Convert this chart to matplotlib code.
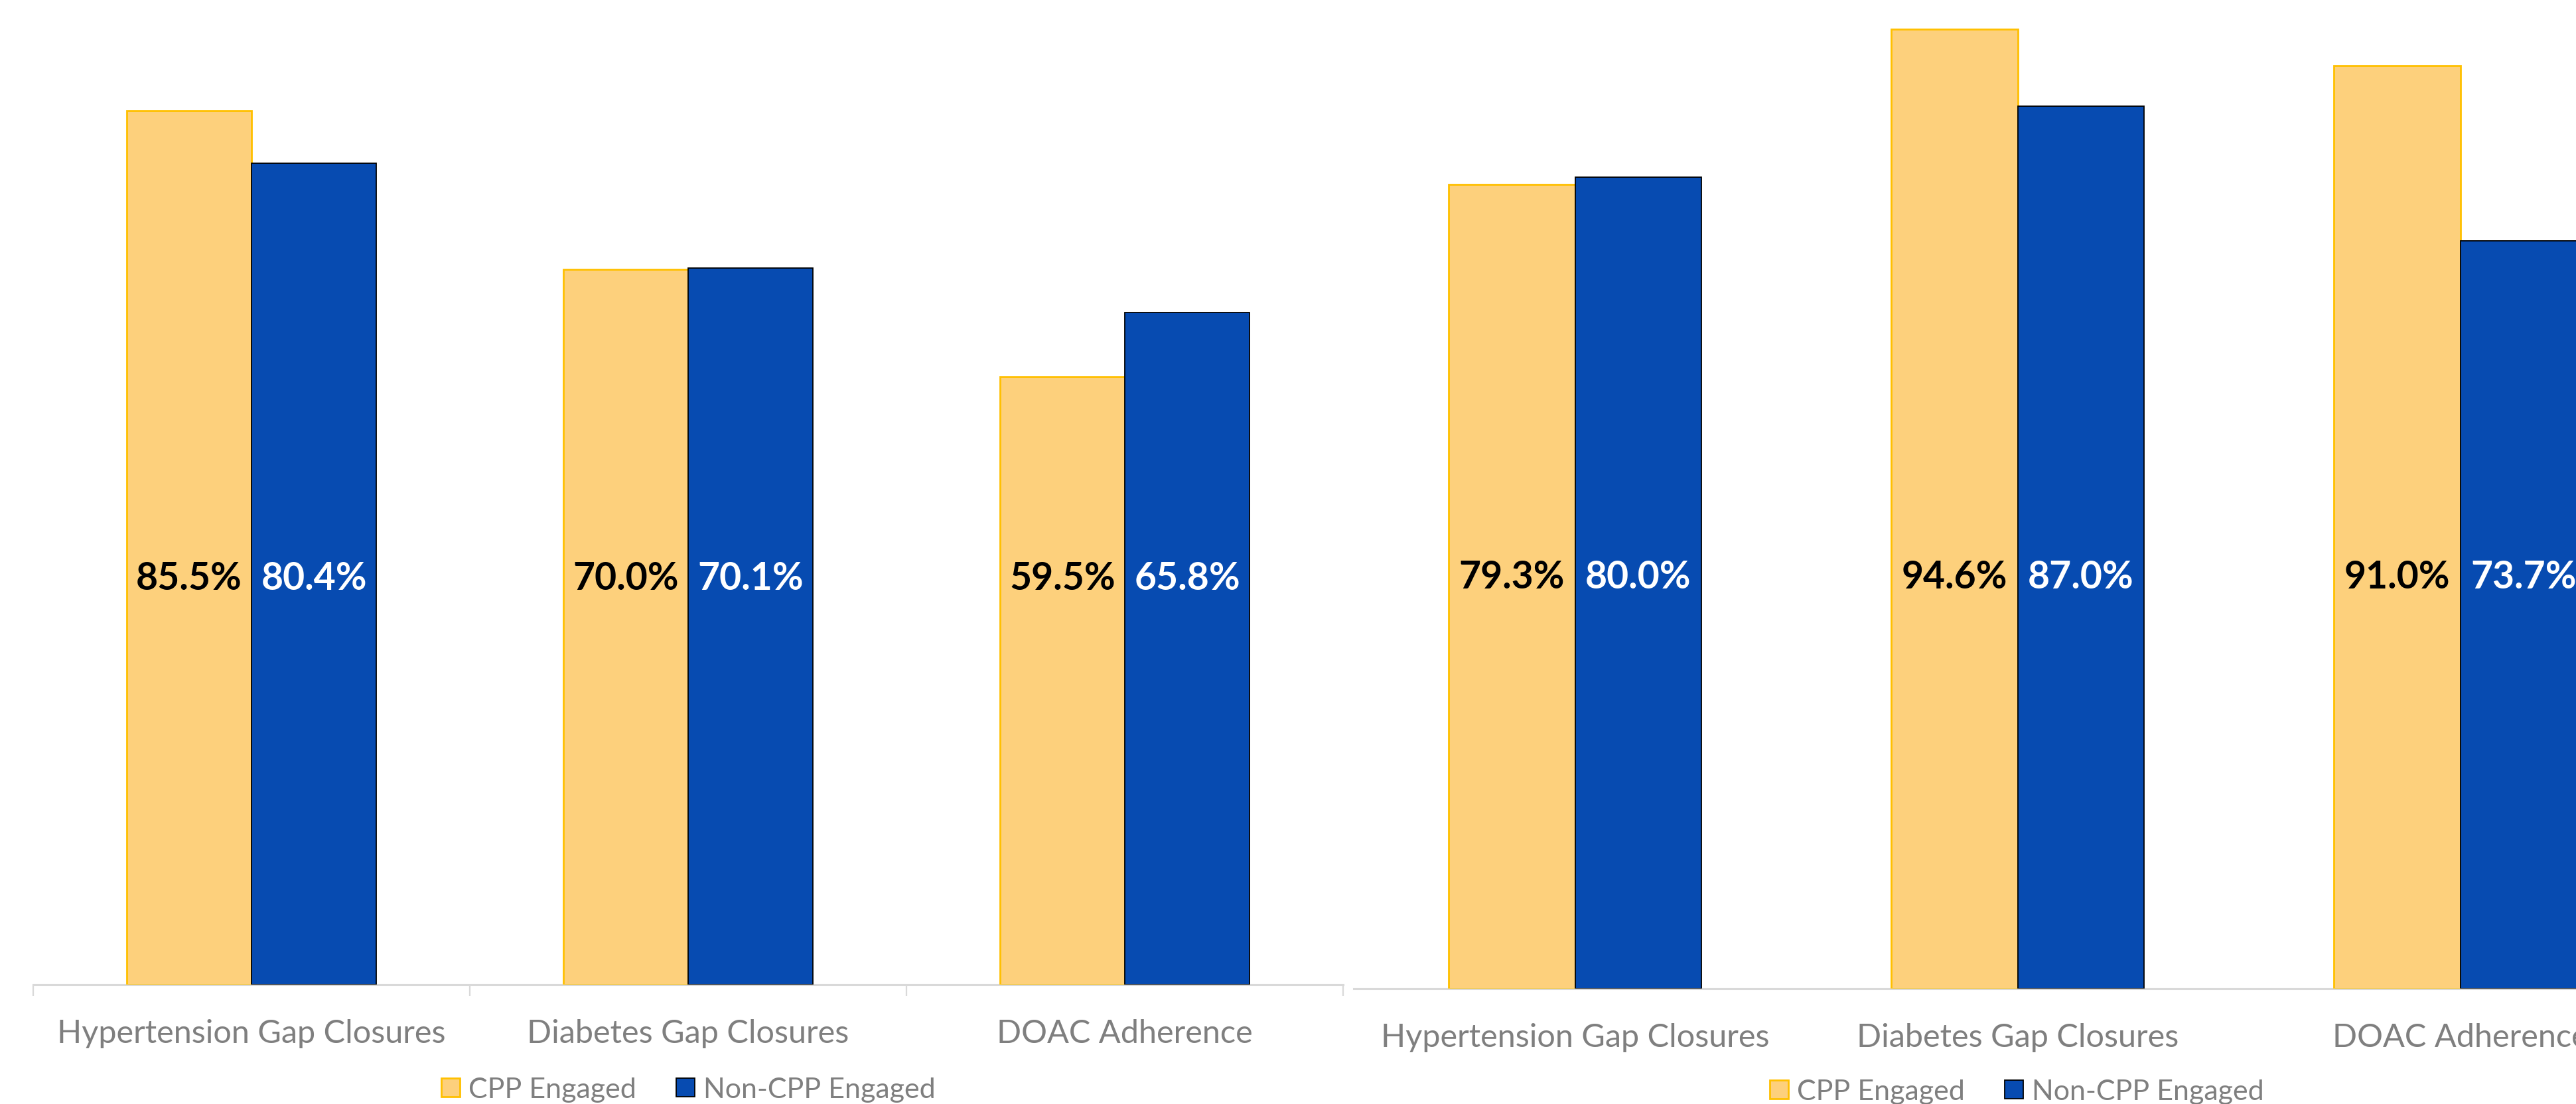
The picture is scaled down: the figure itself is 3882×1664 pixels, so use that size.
import matplotlib
matplotlib.use("Agg")
import matplotlib.pyplot as plt
import numpy as np

categories = ["Hypertension Gap Closures", "Diabetes Gap Closures", "DOAC Adherence"]
series_names = ["CPP Engaged", "Non-CPP Engaged"]

# two comparison periods, one panel each
left_cpp = [85.5, 70.0, 59.5]
left_non_cpp = [80.4, 70.1, 65.8]
right_cpp = [79.3, 94.6, 91.0]
right_non_cpp = [80.0, 87.0, 73.7]

cpp_fill, cpp_edge = "#FDD07C", "#FFC000"
non_fill, non_edge = "#074BB1", "#000000"
tick_grey = "#7F7F7F"
axis_grey = "#D9D9D9"

W, H = 3882, 1665
fig = plt.figure(figsize=(W / 100, H / 100), dpi=100)
plt.rcParams["font.family"] = ["Lato", "DejaVu Sans"]


def panel(rect, xlim, ylim, cpp, non, label_y, separators):
    ax = fig.add_axes(rect)
    x = np.arange(len(categories))
    w = 0.286
    ax.bar(x - w / 2, cpp, w, color=cpp_fill, edgecolor=cpp_edge,
           linewidth=2, label=series_names[0], zorder=3)
    ax.bar(x + w / 2, non, w, color=non_fill, edgecolor=non_edge,
           linewidth=1.3, label=series_names[1], zorder=3)
    for xi, v in zip(x - w / 2, cpp):
        ax.text(xi, label_y, f"{v:.1f}%", ha="center", va="center",
                fontsize=41, fontweight="bold", color="black", zorder=4)
    for xi, v in zip(x + w / 2, non):
        ax.text(xi, label_y, f"{v:.1f}%", ha="center", va="center",
                fontsize=41, fontweight="bold", color="white", zorder=4)
    ax.set_xlim(*xlim)
    ax.set_ylim(*ylim)
    for s in ["top", "left", "right"]:
        ax.spines[s].set_visible(False)
    ax.spines["bottom"].set_color(axis_grey)
    ax.spines["bottom"].set_linewidth(2.2)
    ax.set_yticks([])
    ax.set_xticks(x)
    ax.set_xticklabels(categories, fontsize=35, color=tick_grey)
    ax.tick_params(axis="x", which="major", length=0, pad=37)
    if separators:
        ax.set_xticks(np.arange(-0.5, len(categories)), minor=True)
        ax.tick_params(axis="x", which="minor", length=12, width=1.6,
                       color=axis_grey)
    return ax


# left panel
ax1 = panel([50 / W, (H - 1485) / H, (2024 - 50) / W, 1485 / H],
            (-0.5, 2.5), (0, 1485 / 15.40), left_cpp, left_non_cpp, 39.8, True)
# right panel runs past the right edge of the canvas
ax2 = panel([2040 / W, (H - 1491) / H, (W - 2040) / W, 1491 / H],
            (-0.5, -0.5 + (W - 2040) / 667), (0, 1491 / 15.29),
            right_cpp, right_non_cpp, 40.6, False)

legend_kw = dict(loc="center", ncol=2, frameon=False, fontsize=31,
                 labelcolor=tick_grey, handlelength=0.65, handleheight=0.65,
                 handletextpad=0.3, columnspacing=1.4)
h, l = ax1.get_legend_handles_labels()
fig.legend(h, l, bbox_to_anchor=(1037 / W, 22 / H), **legend_kw)
fig.legend(h, l, bbox_to_anchor=(3039 / W, 19 / H), **legend_kw)

fig.savefig("out.png", dpi=100, facecolor="white")
